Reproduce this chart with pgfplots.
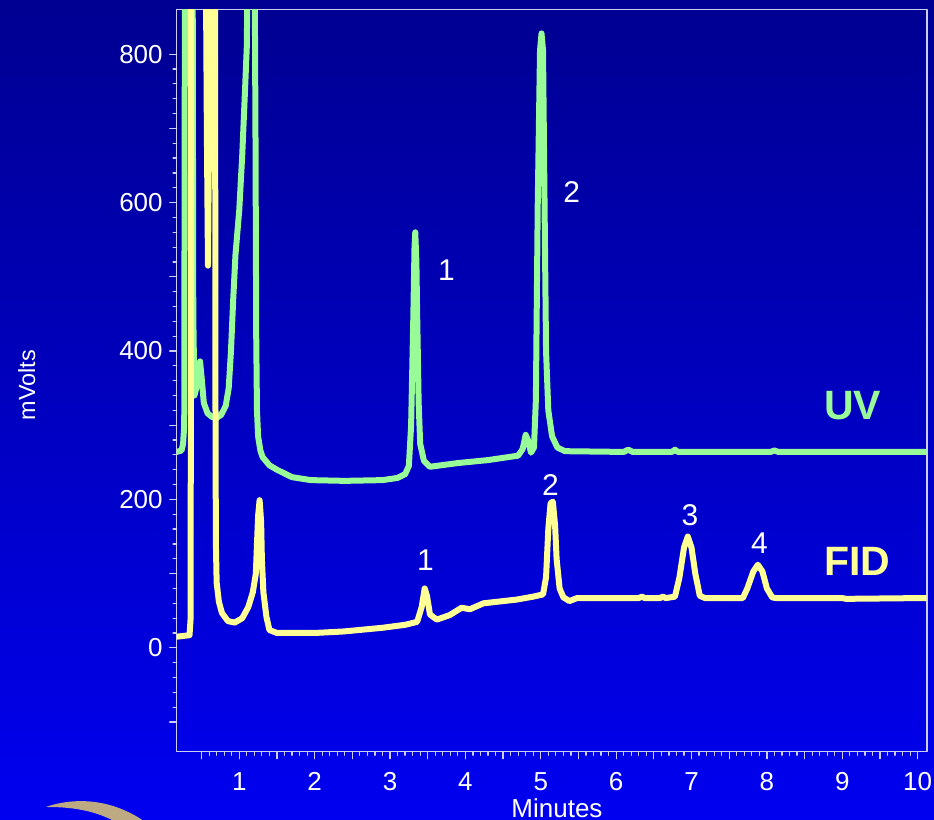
\documentclass[border=0pt]{standalone}
\usepackage{fontspec}
\setmainfont{Liberation Sans}
\usepackage{pgfplots}
\pgfplotsset{compat=1.18}
\definecolor{uvgreen}{RGB}{152,251,152}
\definecolor{fidyellow}{RGB}{255,255,150}
\definecolor{axcol}{RGB}{205,205,240}
\definecolor{bgtop}{RGB}{0,0,145}
\definecolor{bgbot}{RGB}{0,0,240}
\definecolor{logotan}{RGB}{190,170,130}
\begin{document}
\begin{tikzpicture}
\useasboundingbox (-88.35pt,-34.15pt) rectangle (378.65pt,375.85pt);
\clip (-88.35pt,-34.15pt) rectangle (378.65pt,375.85pt);
\shade[top color=bgtop, bottom color=bgbot] (-88.35pt,-34.15pt) rectangle (378.65pt,375.85pt);
\fill[logotan] (-65.5pt,-27.65pt) .. controls (-49pt,-22pt) and (-29pt,-24pt) .. (-12pt,-38pt) -- (-26pt,-38pt) .. controls (-37pt,-30pt) and (-51pt,-27.5pt) .. cycle;
\begin{axis}[
  at={(0pt,0pt)}, anchor=south west,
  scale only axis, width=375pt, height=371pt,
  xmin=0.17, xmax=10.12, ymin=-140, ymax=860,
  clip mode=individual,
  axis line style={axcol, line width=0.8pt},
  xtick={0.5,1,...,10},
  xticklabels={,1,,2,,3,,4,,5,,6,,7,,8,,9,,10},
  minor x tick num=4,
  ytick={-100,0,...,800},
  yticklabels={,0,,200,,400,,600,,800},
  minor y tick num=4,
  tick align=outside, xtick pos=left, ytick pos=left,
  major tick length=3.5pt, minor tick length=1.8pt,
  tick style={axcol, line width=0.6pt},
  ticklabel style={font=\fontsize{13}{15}\selectfont, text=white},
  xticklabel style={yshift=-3.5pt},
  /pgf/number format/assume math mode=true,
  line join=round, line cap=round,
]
\addplot[uvgreen, line width=3pt] coordinates {
(0.17,264) (0.235,266) (0.255,275) (0.27,300) (0.285,1300) (0.33,1500) (0.375,1300) (0.39,450) (0.405,340) (0.43,350) (0.46,378) (0.48,386) (0.50,365) (0.53,330) (0.58,316) (0.64,311) (0.70,310) (0.76,314) (0.82,326) (0.86,350) (0.89,400) (0.92,470) (0.95,530) (1.00,590) (1.04,665) (1.08,760) (1.10,810) (1.12,1000) (1.16,1500) (1.20,1000) (1.215,700) (1.225,420) (1.235,320) (1.25,285) (1.28,266) (1.31,257) (1.40,246) (1.50,240) (1.70,230) (1.95,226) (2.4,225) (2.9,226) (3.1,229) (3.2,234) (3.25,245) (3.28,300) (3.31,450) (3.325,540) (3.335,560) (3.35,520) (3.36,450) (3.38,330) (3.40,275) (3.45,252) (3.53,244) (3.9,249) (4.3,253) (4.7,259) (4.76,268) (4.80,287) (4.83,280) (4.87,263) (4.91,270) (4.935,334) (4.96,600) (4.99,805) (5.01,828) (5.03,805) (5.05,600) (5.07,400) (5.10,320) (5.15,285) (5.22,270) (5.32,265) (6.10,264) (6.16,267) (6.22,264) (6.74,264) (6.78,267) (6.82,264) (8.05,264) (8.10,266) (8.15,264) (10.12,264)
};
\addplot[fidyellow, line width=3pt] coordinates {
(0.17,15) (0.34,17) (0.355,40) (0.365,1300) (0.45,1500) (0.54,1200) (0.57,700) (0.585,515) (0.60,700) (0.62,1200) (0.65,1500) (0.675,1200) (0.685,300) (0.69,140) (0.70,88) (0.73,62) (0.77,47) (0.85,36) (0.94,34) (1.04,40) (1.12,55) (1.18,75) (1.22,100) (1.235,140) (1.25,178) (1.27,199) (1.29,170) (1.30,120) (1.32,75) (1.36,42) (1.40,24) (1.50,20) (2.0,20) (2.38,22) (2.9,27) (3.2,31) (3.36,35) (3.42,55) (3.46,80) (3.49,70) (3.53,45) (3.62,38) (3.79,44) (3.95,54) (4.06,52) (4.24,60) (4.68,65) (4.9,69) (5.03,72) (5.07,95) (5.10,160) (5.13,195) (5.16,197) (5.19,165) (5.21,120) (5.25,80) (5.30,68) (5.38,63) (5.48,67) (6.3,67) (6.34,69) (6.38,67) (6.58,67) (6.62,69) (6.66,67) (6.78,69) (6.84,95) (6.90,135) (6.95,150) (7.00,135) (7.05,100) (7.11,70) (7.18,67) (7.68,67) (7.74,80) (7.82,103) (7.88,112) (7.94,103) (8.00,80) (8.07,68) (8.12,67) (9.0,67) (9.05,66) (10.0,67) (10.12,67)
};
\begin{scope}[every node/.style={text=white, font=\fontsize{15}{17}\selectfont, inner sep=0pt}]
\node at (axis cs:3.75,509) {1};
\node at (axis cs:5.41,614) {2};
\node at (axis cs:3.47,118) {1};
\node at (axis cs:5.13,220) {2};
\node at (axis cs:6.98,179) {3};
\node at (axis cs:7.90,141) {4};
\end{scope}
\node[text=uvgreen, font=\fontsize{20.5}{23}\selectfont\bfseries, inner sep=0pt] at (axis cs:9.14,327) {UV};
\node[text=fidyellow, font=\fontsize{20.5}{23}\selectfont\bfseries, inner sep=0pt] at (axis cs:9.20,116) {FID};
\node[text=white, font=\fontsize{13}{15}\selectfont, inner sep=0pt] at (axis description cs:0.507,-0.0755) {Minutes};
\node[text=white, font=\fontsize{11.7}{13}\selectfont, inner sep=0pt, rotate=90] at (axis description cs:-0.2,0.494) {mVolts};
\end{axis}
\end{tikzpicture}
\end{document}
